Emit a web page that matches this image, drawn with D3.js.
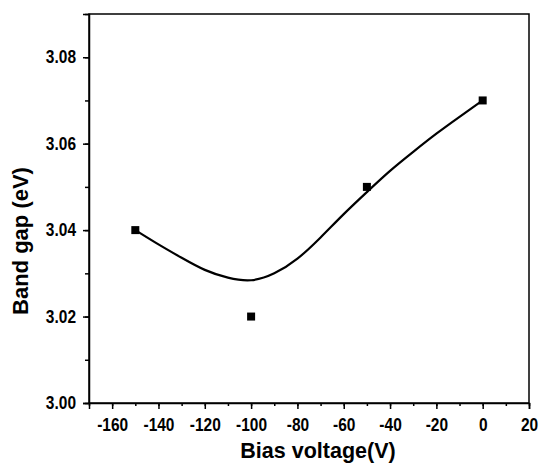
<!DOCTYPE html>
<html>
<head>
<meta charset="utf-8">
<script src="https://cdn.jsdelivr.net/npm/d3@7"></script>
<style>
  body { margin: 0; background: #fff; }
  text { font-family: "Liberation Sans", Arial, sans-serif; font-weight: bold; }
</style>
</head>
<body>
<div id="chart"></div>
<script>
// measured points
var biasVoltage = [-150, -100, -50, 0];
var bandGap = [3.04, 3.02, 3.05, 3.07];

// smooth fit curve
var fitX = [-150, -140, -130, -120, -110, -100, -90, -80, -70, -60, -50, -40, -30, -20, -10, 0];
var fitY = [3.0400, 3.0367, 3.0336, 3.0308, 3.0290, 3.0284, 3.0300, 3.0334, 3.0383, 3.0437, 3.0488, 3.0537, 3.0581, 3.0623, 3.0662, 3.0700];

var xTicks = [-160, -140, -120, -100, -80, -60, -40, -20, 0, 20];
var yTicks = [3.00, 3.02, 3.04, 3.06, 3.08];

var margin = {top: 14, right: 10, bottom: 61, left: 89},
    width = 539 - margin.left - margin.right,
    height = 464 - margin.top - margin.bottom;

var svg = d3.select("#chart")
  .append("svg")
  .attr("width", 539)
  .attr("height", 464)
  .append("g")
  .attr("transform", "translate(" + margin.left + "," + margin.top + ")");

var x = d3.scaleLinear().domain([-170, 20]).range([0, width]);
var y = d3.scaleLinear().domain([3.00, 3.09]).range([height, 0]);

// frame
svg.append("rect")
  .attr("width", width)
  .attr("height", height)
  .attr("fill", "none")
  .attr("stroke", "#000")
  .attr("stroke-width", 1.5);

// minor ticks
svg.append("g")
  .attr("transform", "translate(0," + height + ")")
  .call(d3.axisBottom(x).tickValues(d3.range(-170, 21, 10)).tickSize(3).tickFormat(""))
  .call(function(g) { g.select(".domain").remove(); });

svg.append("g")
  .call(d3.axisLeft(y).tickValues(d3.range(3.00, 3.091, 0.01)).tickSize(4).tickFormat(""))
  .call(function(g) { g.select(".domain").remove(); });

// major ticks + labels (plain hyphen for minus, like the original)
var xAxis = svg.append("g")
  .attr("transform", "translate(0," + height + ")")
  .call(d3.axisBottom(x).tickValues(xTicks).tickSize(6).tickPadding(7)
    .tickFormat(function(d) { return String(d); }));
xAxis.select(".domain").attr("stroke-width", 1.5);

var yAxis = svg.append("g")
  .call(d3.axisLeft(y).tickValues(yTicks).tickSize(6).tickPadding(7).tickFormat(d3.format(".2f")));
yAxis.select(".domain").attr("stroke-width", 1.5);

svg.selectAll(".tick line").attr("stroke-width", 1.5);
// the original tick labels are tall and narrow: stretch them a bit vertically
svg.selectAll(".tick text")
  .attr("font-size", 15.5)
  .attr("fill", "#000")
  .attr("transform", "scale(1,1.15)");

// fit curve
var line = d3.line()
  .x(function(d) { return x(d[0]); })
  .y(function(d) { return y(d[1]); })
  .curve(d3.curveNatural);

svg.append("path")
  .datum(fitX.map(function(v, i) { return [v, fitY[i]]; }))
  .attr("d", line)
  .attr("fill", "none")
  .attr("stroke", "#000")
  .attr("stroke-width", 2.2);

// markers
svg.selectAll(".pt")
  .data(biasVoltage)
  .enter().append("rect")
  .attr("class", "pt")
  .attr("x", function(d) { return x(d) - 4; })
  .attr("y", function(d, i) { return y(bandGap[i]) - 4; })
  .attr("width", 8)
  .attr("height", 8)
  .attr("fill", "#000");

// axis titles
svg.append("text")
  .attr("x", 318 - margin.left)
  .attr("y", 458 - margin.top)
  .attr("text-anchor", "middle")
  .attr("font-size", 21.5)
  .text("Bias voltage(V)");

svg.append("text")
  .attr("transform", "translate(" + (28 - margin.left) + "," + (241 - margin.top) + ") rotate(-90)")
  .attr("text-anchor", "middle")
  .attr("font-size", 22)
  .text("Band gap (eV)");
</script>
</body>
</html>
